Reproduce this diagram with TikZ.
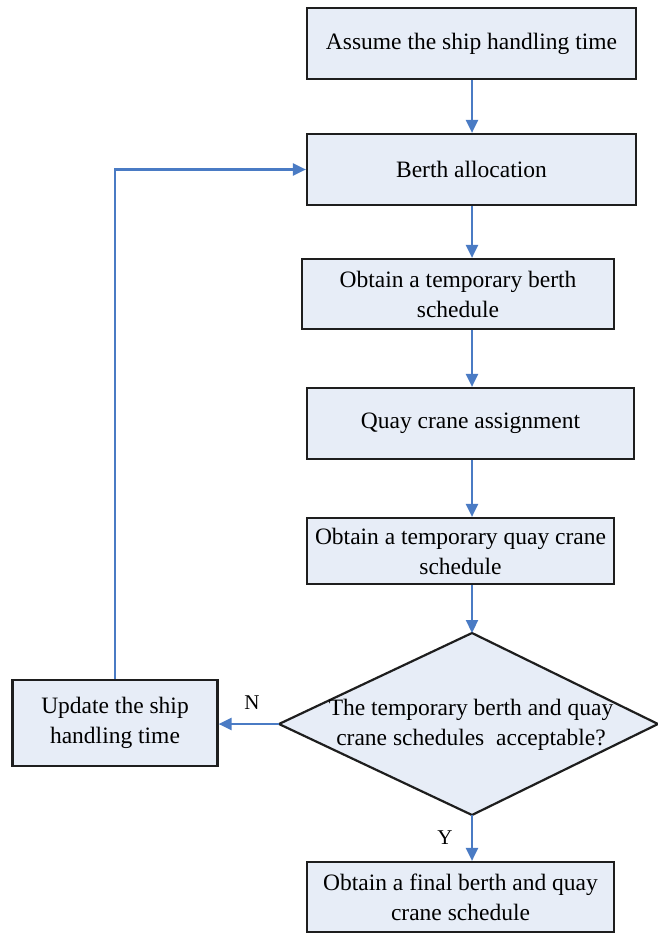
\documentclass[tikz,border=0pt]{standalone}
\usepackage{fontspec}
\setmainfont{Liberation Serif}
\usetikzlibrary{arrows.meta}
\definecolor{boxfill}{HTML}{E7EDF7}
\definecolor{flowblue}{HTML}{4A7BC4}
\definecolor{edge}{HTML}{1E1E1E}
\begin{document}
\begin{tikzpicture}[x=1pt,y=-1pt,
  every node/.style={font=\fontsize{23.5}{30}\selectfont, align=center, inner sep=0pt},
  procbox/.style={draw=edge, line width=2.2pt, fill=boxfill},
  flow/.style={draw=flowblue, line width=2.2pt, -{Triangle[length=13pt,width=12pt]}},
  tag/.style={font=\fontsize{21}{24}\selectfont}]
  \useasboundingbox (0,0) rectangle (657,936);

  % process boxes
  \node[procbox, minimum width=329pt, minimum height=71pt] (assume) at (471.5,43.5) {Assume the ship handling time};
  \node[procbox, minimum width=329pt, minimum height=71pt] (berth) at (471.5,169.5) {Berth allocation};
  \node[procbox, minimum width=312pt, minimum height=70pt] (tberth) at (458,294) {Obtain a temporary berth\\schedule};
  \node[procbox, minimum width=327pt, minimum height=71pt] (quay) at (470.5,423.5) {Quay crane assignment};
  \node[procbox, minimum width=307pt, minimum height=66pt] (tquay) at (460.5,551) {Obtain a temporary quay crane\\schedule};
  \node[procbox, minimum width=307pt, minimum height=70pt] (final) at (460.5,897) {Obtain a final berth and quay\\crane schedule};
  \node[procbox, minimum width=205pt, minimum height=86pt] (update) at (115,723) {Update the ship\\handling time};

  % decision diamond
  \coordinate (dtop) at (472,633);
  \coordinate (dleft) at (279,724);
  \coordinate (dright) at (658,724);
  \coordinate (dbottom) at (472,815);
  \draw[draw=edge, line width=2.2pt, fill=boxfill] (dtop) -- (dright) -- (dbottom) -- (dleft) -- cycle;
  \node (decide) at (471,725) {The temporary berth and quay\\crane schedules\ \ acceptable?};

  % main flow
  \draw[flow] (assume.south -| dtop) -- (berth.north -| dtop);
  \draw[flow] (berth.south -| dtop) -- (tberth.north -| dtop);
  \draw[flow] (tberth.south -| dtop) -- (quay.north -| dtop);
  \draw[flow] (quay.south -| dtop) -- (tquay.north -| dtop);
  \draw[flow] (tquay.south -| dtop) -- (dtop);
  \draw[flow] (dbottom) -- (final.north -| dbottom);
  \draw[flow] (dleft) -- (dleft -| update.east);
  \draw[flow] (update.north) |- (berth.west);

  % branch labels
  \node[tag] (no) at (252,703) {N};
  \node[tag] (yes) at (445,838) {Y};
\end{tikzpicture}
\end{document}
